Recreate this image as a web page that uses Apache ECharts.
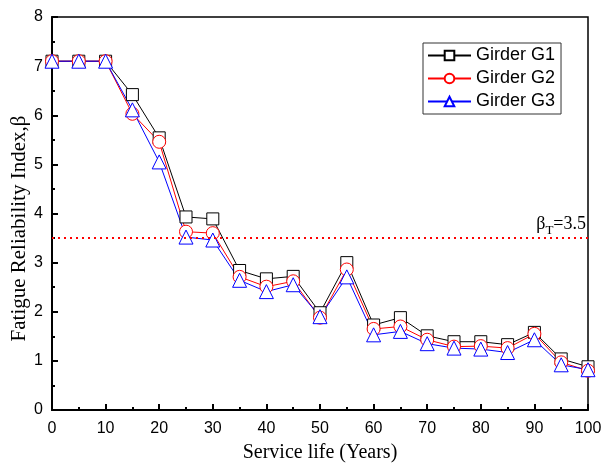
<!DOCTYPE html>
<html>
<head>
<meta charset="utf-8">
<script src="https://cdn.jsdelivr.net/npm/echarts@6/dist/echarts.min.js"></script>
<style>
  html, body { margin: 0; padding: 0; background: #fff; }
  #chart { width: 603px; height: 468px; }
</style>
</head>
<body>
<div id="chart"></div>
<script>
const years = [0, 5, 10, 15, 20, 25, 30, 35, 40, 45, 50, 55, 60, 65, 70, 75, 80, 85, 90, 95, 100];
const girderG1 = [7.1, 7.1, 7.1, 6.42, 5.54, 3.93, 3.89, 2.84, 2.67, 2.72, 1.98, 3.0, 1.73, 1.88, 1.51, 1.39, 1.39, 1.33, 1.58, 1.04, 0.88];
const girderG2 = [7.1, 7.1, 7.1, 6.03, 5.46, 3.63, 3.6, 2.71, 2.51, 2.62, 1.88, 2.86, 1.65, 1.7, 1.43, 1.29, 1.3, 1.26, 1.55, 0.97, 0.8];
const girderG3 = [7.1, 7.1, 7.1, 6.11, 5.05, 3.52, 3.46, 2.64, 2.41, 2.55, 1.9, 2.71, 1.53, 1.6, 1.35, 1.26, 1.24, 1.17, 1.43, 0.92, 0.82];
const targetBeta = 3.5;

const chart = echarts.init(document.getElementById('chart'));

function pairs(vals) {
    return years.map((x, i) => [x, vals[i]]);
}

function makeSeries(name, vals, color, symbol, size) {
    return {
        name: name,
        type: 'line',
        data: pairs(vals),
        symbol: symbol,
        symbolSize: size,
        showAllSymbol: true,
        lineStyle: { color: color, width: 1 },
        itemStyle: { color: '#fff', borderColor: color, borderWidth: 1 },
        emphasis: { disabled: true },
        z: 3
    };
}

const serif = '"Liberation Serif", "Times New Roman", serif';
const sans = '"Liberation Sans", Arial, sans-serif';

const series = [
    makeSeries('Girder G1', girderG1, '#000', 'rect', 12),
    makeSeries('Girder G2', girderG2, '#ff0000', 'circle', 13),
    makeSeries('Girder G3', girderG3, '#0000ff', 'triangle', 14)
];

// target reliability line
series[0].markLine = {
    silent: true,
    symbol: 'none',
    lineStyle: { color: '#ff0000', type: [2, 4], width: 2 },
    data: [{ yAxis: targetBeta }],
    label: {
        show: true,
        position: 'insideEndTop',
        distance: [2, 1],
        formatter: '{a|β}{b|T}{a|=' + targetBeta + '}',
        rich: {
            a: { fontFamily: serif, fontSize: 18, color: '#000' },
            b: { fontFamily: serif, fontSize: 13, color: '#000', padding: [13, 0, 0, 0] }
        }
    }
};

const option = {
    animation: false,
    backgroundColor: '#fff',
    grid: {
        left: 52, right: 15, top: 17, bottom: 58,
        outerBoundsMode: 'none',
        containLabel: false,
        show: true, borderColor: '#000', borderWidth: 1.5
    },
    legend: {
        orient: 'vertical',
        left: 423,
        top: 43,
        itemWidth: 43,
        itemHeight: 12,
        itemGap: 2,
        padding: [2, 6, 2, 4],
        borderColor: '#333',
        borderWidth: 1,
        backgroundColor: '#fff',
        textStyle: { fontFamily: sans, fontSize: 18, lineHeight: 21, color: '#000' },
        data: ['Girder G1', 'Girder G2', 'Girder G3']
    },
    xAxis: {
        type: 'value',
        min: 0, max: 100, interval: 10,
        name: 'Service life (Years)',
        nameLocation: 'middle',
        nameGap: 33,
        nameMoveOverlap: false,
        nameTextStyle: { fontFamily: serif, fontSize: 20, color: '#000' },
        axisLine: { lineStyle: { color: '#000', width: 2 } },
        axisTick: { inside: true, length: 6, lineStyle: { color: '#000', width: 2 } },
        minorTick: { show: true, splitNumber: 2, length: 3, lineStyle: { color: '#000', width: 2 } },
        axisLabel: { fontFamily: sans, fontSize: 16, color: '#000', margin: 11 },
        splitLine: { show: false }
    },
    yAxis: {
        type: 'value',
        min: 0, max: 8, interval: 1,
        name: 'Fatigue Reliability Index,β',
        nameLocation: 'middle',
        nameGap: 22,
        nameMoveOverlap: false,
        nameTextStyle: { fontFamily: serif, fontSize: 21, color: '#000', padding: [0, 30, 0, 0] },
        axisLine: { show: true, lineStyle: { color: '#000', width: 2 } },
        axisTick: { inside: true, length: 6, lineStyle: { color: '#000', width: 2 } },
        minorTick: { show: true, splitNumber: 2, length: 3, lineStyle: { color: '#000', width: 2 } },
        axisLabel: { fontFamily: sans, fontSize: 16, color: '#000', margin: 9 },
        splitLine: { show: false }
    },
    series: series
};

chart.setOption(option);
</script>
</body>
</html>
